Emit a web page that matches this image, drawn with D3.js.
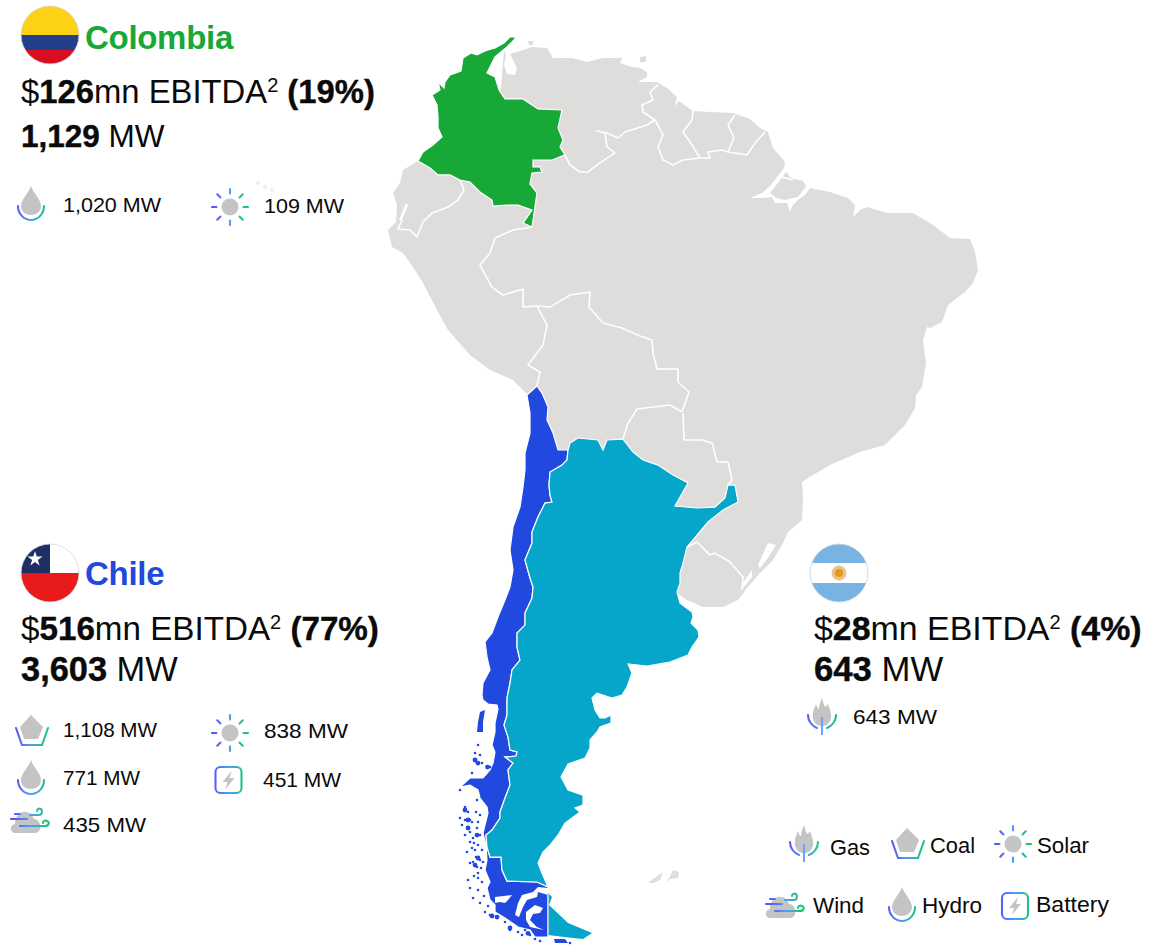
<!DOCTYPE html>
<html>
  <head>
    <meta charset="utf-8" />
    <script src="https://cdn.jsdelivr.net/npm/d3@7"></script>
    <style>
      body {
        margin: 0;
        background: #ffffff;
      }
      svg text {
        font-family: "Liberation Sans", Arial, sans-serif;
        fill: #0a0a0a;
      }
      .heavy {
        stroke: #0a0a0a;
        stroke-width: 0.4;
      }
      .land {
        fill: #dedddc;
      }
      .border {
        fill: none;
        stroke: #ffffff;
        stroke-width: 1.6;
        stroke-linejoin: round;
      }
      .water {
        fill: #ffffff;
      }
      .grey {
        fill: #c4c4c4;
      }
      .glow {
        fill: none;
        stroke: url(#glow);
        stroke-width: 2.1;
        stroke-linecap: round;
      }
    </style>
  </head>
  <body>
    <script>
      // outlines are [lon, lat]
      const restOfContinent = [[-72.68,11.25],[-72.52,10.88],[-72.68,10.13],[-72.44,9.45],[-71.8,9.38],[-71.64,9.9],[-72.04,10.65],[-72.2,10.95],[-71.4,11.18],[-70.44,11.48],[-69.24,11.4],[-68.76,10.65],[-67.24,10.65],[-66.04,10.35],[-64.76,10.65],[-63.24,10.65],[-63.4,10.28],[-62.44,9.98],[-61.8,9.9],[-61.24,9.6],[-61.24,9.23],[-61.96,8.85],[-60.44,8.85],[-59.64,8.4],[-58.84,7.73],[-59,7.05],[-58.68,7.43],[-57.56,6.68],[-56.2,6.6],[-54.36,6.53],[-53,6.08],[-52.2,5.4],[-51.56,5.1],[-51.16,3.9],[-50.2,2.85],[-50.28,2.4],[-50.84,1.73],[-51.4,1.05],[-52.04,0.53],[-53,0.15],[-51.8,0.15],[-51.24,0.23],[-51,-0.23],[-50.04,-0.23],[-49.8,-0.83],[-49.56,-0.38],[-49.16,0],[-48.52,0.45],[-48.2,0.9],[-46.6,0.6],[-45.16,0.15],[-44.6,-0.38],[-44.76,-1.28],[-44.2,-0.75],[-43.64,-0.53],[-42.04,-0.98],[-39.96,-0.98],[-38.36,-1.88],[-37,-2.85],[-35.4,-2.93],[-35,-3.9],[-34.76,-5.25],[-35.16,-6.23],[-35.8,-6.9],[-37.16,-7.88],[-37.64,-9.15],[-38.6,-9.6],[-38.84,-9.53],[-39.16,-10.5],[-38.92,-12.23],[-39.24,-14.03],[-39.72,-14.63],[-39.8,-15.6],[-40.6,-16.88],[-42.2,-18.38],[-44.2,-18.9],[-46.6,-19.88],[-47.96,-20.63],[-48.84,-21.15],[-48.76,-22.28],[-48.84,-24],[-49.96,-24.9],[-50.44,-25.88],[-51.16,-27],[-52.2,-27.98],[-53.24,-29.1],[-53.64,-29.63],[-53.96,-30],[-55.16,-30.53],[-56.76,-30.53],[-58.04,-30],[-58.84,-29.48],[-65,-30],[-69.8,-21],[-70.84,-14.55],[-71.96,-13.5],[-73.8,-12.75],[-75.4,-11.63],[-77.16,-9.75],[-78.04,-8.25],[-79.16,-6.23],[-79.96,-5.03],[-80.76,-3.98],[-81.64,-3.53],[-81.96,-2.25],[-81.32,-1.65],[-81.24,-0.38],[-81.56,0.53],[-81,1.28],[-80.76,2.25],[-79.56,2.93],[-73,7.5]];
      const marajo = [[-50.12,2.1],[-49.72,1.65],[-48.76,1.43],[-48.52,1.05],[-49.16,0.23],[-50.2,0],[-50.92,0.15],[-51.4,0.53],[-50.76,1.28]];
      const trinidad = [[-61.8,10.73],[-61.32,10.8],[-61.32,10.35],[-61.8,10.35]];
      const curacao = [[-70.76,11.93],[-70.36,11.93],[-70.36,11.63],[-70.68,11.63]];
      const falklandWest = [[-61.16,-51.23],[-59.96,-50.4],[-60.2,-51],[-60.76,-51.23]];
      const falklandEast = [[-59.8,-51.23],[-59.4,-50.78],[-59.16,-50.25],[-58.68,-50.4],[-58.76,-50.85],[-59.4,-50.93]];
      const galapagos = [[-92.36,1.28],[-91.8,0.98],[-91.24,0.75]];

      const colombiaOutline = [[-71.8,12.23],[-72.2,12.23],[-72.68,11.78],[-73.4,11.4],[-74.2,11.18],[-74.84,10.88],[-75.32,11.03],[-75.96,10.65],[-76.12,9.68],[-77,9.38],[-77.4,8.85],[-77.48,8.4],[-77.96,8.85],[-77.8,8.25],[-78.44,7.88],[-78.04,7.13],[-77.96,6.23],[-77.96,5.4],[-77.64,4.73],[-78.36,4.13],[-79.16,3.6],[-79.56,2.93],[-78.6,2.4],[-77.96,1.88],[-77,1.88],[-76.2,1.5],[-75.4,1.35],[-74.6,0.6],[-73.64,0],[-73.56,-0.45],[-72.44,-0.38],[-71.56,-0.38],[-70.44,-0.75],[-71.16,-1.73],[-70.44,-2.03],[-70.04,0.53],[-70.6,1.2],[-70.44,2.03],[-69.64,2.1],[-69.8,2.48],[-70.36,2.48],[-70.36,3],[-68.84,3],[-67.8,3.38],[-68.2,3.98],[-67.96,4.5],[-68.36,5.4],[-68.04,6.75],[-69.96,6.83],[-71.16,7.58],[-72.6,7.58],[-73.08,8.25],[-73.4,9.23],[-74.04,9.53],[-73.4,10.73],[-72.44,11.48],[-71.8,12.08]];

      const chileArgentinaBorder = [[-67.56,-18.75],[-67.64,-19.5],[-68.04,-19.88],[-69,-20.4],[-69.08,-21.38],[-69,-22.13],[-68.84,-22.65],[-69.4,-22.73],[-69.96,-23.78],[-70.44,-24.9],[-70.44,-25.73],[-71,-27],[-70.6,-28.35],[-70.36,-29.03],[-70.44,-29.85],[-71,-30.98],[-71,-31.88],[-71.64,-32.48],[-71.64,-33.53],[-71.4,-34.5],[-72.04,-35.25],[-72.2,-36.23],[-72.44,-37.35],[-72.44,-38.63],[-72.68,-39.38],[-72.36,-40.28],[-72.2,-41.25],[-71.64,-41.4],[-71.72,-41.7],[-72.6,-41.78],[-71.96,-42.23],[-72.36,-42.75],[-72.2,-43.88],[-72.6,-44.85],[-73,-45.9],[-73,-46.35],[-73.64,-47.25],[-74.12,-47.63],[-74.04,-48.53],[-73.8,-49.28],[-72.92,-49.28],[-72.84,-50.25],[-72.44,-51.08],[-70.04,-51.15],[-69.16,-51.53]];
      const chileNorth = [[-70.04,-13.95],[-69.64,-14.48],[-69.16,-15.53],[-69.24,-16.5],[-68.76,-17.48],[-68.36,-18.75]];
      const chileWest = [[-69.16,-55.28],[-70.2,-55.28],[-70.6,-54.75],[-71.56,-54.53],[-72.6,-53.85],[-73.4,-53.4],[-73.4,-52.88],[-73.8,-52.5],[-74.04,-51.6],[-73.8,-51.15],[-74.2,-50.25],[-74.04,-49.5],[-74.12,-48.38],[-74.36,-47.48],[-73.96,-45.98],[-74.04,-45.53],[-74.6,-44.85],[-74.76,-44.25],[-75.4,-43.88],[-76.2,-44.03],[-75.4,-43.35],[-74.36,-43.35],[-73.8,-42.75],[-73.56,-42.23],[-73.4,-41.4],[-73.64,-40.88],[-73.4,-39.9],[-73.4,-39.23],[-73.16,-38.18],[-73.24,-37.88],[-73.96,-37.8],[-74.36,-37.5],[-74.44,-37.13],[-74.36,-36.23],[-73.8,-35.25],[-74.04,-34.28],[-74.2,-33.15],[-73.64,-32.48],[-73.16,-31.28],[-72.6,-30],[-72.2,-29.03],[-71.96,-27.75],[-72.2,-26.25],[-71.96,-24.53],[-71.4,-23.03],[-71.16,-21.53],[-71,-20.25],[-71,-18.98],[-70.6,-17.48],[-70.6,-15.98],[-70.84,-14.63]];
      const chiloe = [[-74.6,-38.4],[-74.2,-38.25],[-74.36,-39.15],[-74.36,-39.9],[-74.84,-39.9],[-74.76,-39.15]];
      const navarino = [[-68.68,-55.43],[-67.8,-55.43],[-67.56,-55.73],[-68.6,-55.73]];
      const chileIslets = [[-74.76,-40.88],[-75,-41.48],[-74.6,-41.63],[-74.84,-42.23],[-74.44,-42.23],[-75.24,-42.98],[-73.8,-42.53],[-76.2,-44.25],[-74.84,-45],[-75.8,-45.53],[-75.56,-45.9],[-76.2,-46.35],[-75.8,-46.5],[-75.4,-46.5],[-75.56,-47.03],[-75.8,-47.63],[-75.16,-47.85],[-74.6,-47.63],[-75.4,-47.4],[-74.84,-47.1],[-74.76,-48.38],[-74.44,-48.75],[-75,-48.75],[-74.6,-49.5],[-75.4,-48.15],[-74.92,-49.28],[-75.4,-49.73],[-75.16,-49.65],[-74.84,-50.03],[-75.56,-51],[-74.76,-50.85],[-75.16,-52.35],[-73.8,-53.63],[-73.16,-53.78],[-72.6,-54.15],[-72.2,-54.75],[-71.56,-54.9],[-71,-54.75],[-70.6,-55.13],[-70.2,-55.43],[-69.8,-55.58],[-71.24,-55.13],[-67.4,-55.73],[-75.64,-48.9],[-75.24,-48.6],[-75.4,-51.6],[-74.2,-53.4],[-74.6,-46.13],[-74.92,-45.9],[-75.24,-46.65],[-74.76,-46.65],[-76.04,-46.88],[-75.08,-48.23],[-74.36,-49.65],[-74.52,-50.1],[-74.76,-50.48],[-75.08,-50.7],[-74.44,-51.15],[-74.76,-51.75],[-74.28,-52.2],[-73.96,-52.95],[-74.6,-52.73]];
      const chileBlobs = [[-75,-42],[-74.76,-42.23],[-74,-42.53],[-75.8,-45.75],[-75.56,-46.5],[-75.56,-47.1],[-74.84,-47.63],[-74.76,-49.35],[-75,-49.88],[-73.64,-53.7],[-73.24,-53.78],[-72.2,-54.6],[-70.76,-55]];
      const straitMagellan = [[-69.16,-51.6],[-69.96,-51.53],[-70.36,-51.9],[-71.24,-52.13],[-71.56,-52.73],[-71.8,-53.63],[-71.48,-53.78],[-71.16,-53.03],[-70.84,-52.5],[-70.04,-52.28],[-69.96,-51.9],[-69.16,-52.13]];
      const skyring = [[-73.4,-52.28],[-72.04,-52.13],[-72.36,-52.5],[-72.6,-52.73],[-73,-52.65],[-73.4,-52.73]];
      const almirantazgo = [[-70.2,-52.88],[-69.56,-53.1],[-69.8,-53.48],[-70.36,-53.55],[-70.6,-54],[-70.04,-54.53],[-69.48,-54.75],[-70.6,-54.53],[-70.92,-54],[-70.92,-53.4]];
      const fuegoBorder = [[-69.16,-51.98],[-69.16,-55.2]];

      const argentinaEast = [[-67.4,-18.23],[-66.76,-17.85],[-65.16,-18],[-64.76,-18.75],[-64.44,-18],[-63.16,-17.93],[-62.36,-18.9],[-61.56,-19.5],[-60.36,-19.88],[-59.16,-20.63],[-57.96,-21.23],[-59,-22.95],[-57.24,-23.1],[-55.8,-23.03],[-55,-22.35],[-54.76,-21.38],[-54.2,-21.38],[-53.96,-22.65],[-55.16,-23.25],[-56.36,-24.15],[-58.04,-26.03],[-58.36,-27.23],[-58.6,-27.98],[-58.6,-28.73],[-58.84,-29.4],[-58.6,-30.23],[-57.64,-30.9],[-57.56,-31.28],[-57.72,-31.73],[-57.16,-32.25],[-57.08,-32.78],[-57.64,-33.53],[-57.96,-34.13],[-59.4,-34.65],[-61.24,-34.95],[-62.76,-34.8],[-62.44,-35.48],[-62.84,-36.53],[-63.24,-37.13],[-64.04,-37.35],[-65.24,-36.98],[-65.64,-37.35],[-65.4,-38.25],[-65,-38.85],[-64.6,-38.85],[-64.12,-38.63],[-64.12,-39.23],[-64.6,-39.38],[-65,-39.53],[-65.24,-39.9],[-65.8,-40.5],[-65.8,-41.1],[-66.2,-41.85],[-67.56,-42.3],[-68.12,-43.28],[-67.56,-44.25],[-66.36,-44.63],[-66.36,-45.38],[-67,-45.6],[-66.6,-45.9],[-67.8,-46.73],[-68.36,-47.63],[-69,-48.38],[-69.56,-48.9],[-69.96,-49.73],[-69.64,-50.48]];
      const fuegoEast = [[-69.16,-51.98],[-68.84,-52.28],[-69.08,-52.88],[-67.56,-54.23],[-65.64,-54.98],[-66.36,-55.43],[-67.16,-55.35],[-69.16,-55.13]];

      const borderLines = [
        [[-76.2,1.5],[-75.88,0.75],[-76.36,0],[-77.16,-0.53],[-78.44,-0.98],[-79.16,-1.65],[-79.64,-2.78],[-80.2,-2.25],[-81.16,-2.18],[-80.84,-1.5]],
        [[-70.44,-2.03],[-71.96,-2.25],[-73.4,-2.85],[-73.8,-3.98],[-74.6,-4.88],[-73.64,-6.53],[-72.76,-7.13],[-71.16,-6.68],[-71.16,-8.03],[-70.04,-7.95]],
        [[-70.04,-7.95],[-69.24,-9.38],[-69.56,-10.88],[-70.76,-12.38],[-69.8,-12.9],[-70.04,-13.88]],
        [[-70.04,-7.95],[-69,-8.03],[-67.4,-7.13],[-65.8,-6.9],[-65.88,-8.03],[-64.76,-9.23],[-63.24,-9.6],[-61.8,-10.2],[-60.84,-10.5],[-60.76,-11.48],[-60.44,-12.68],[-58.76,-12.68],[-58.76,-13.65],[-57.88,-14.4],[-58.44,-15.9]],
        [[-58.44,-15.9],[-59.4,-15.38],[-62.04,-15.68],[-62.76,-16.73],[-63.16,-17.93]],
        [[-58.36,-15.98],[-58.28,-18],[-56.84,-18],[-56.04,-18.23],[-55.64,-19.65],[-54.76,-19.65],[-54.44,-21],[-54.76,-21.38]],
        [[-58.04,-26.03],[-57.24,-25.65],[-56.2,-26.63],[-55.8,-26.48],[-54.6,-27.15],[-53.56,-28.28],[-53.64,-29.25]],
        [[-67.8,3.38],[-67.4,2.63],[-66.6,2.1],[-65.96,2.1],[-65.24,2.63],[-63.8,3.53],[-64.44,3.98],[-64.6,5.03],[-65.24,5.18],[-64.44,5.03],[-63.56,4.65],[-63,5.1],[-61.24,5.63],[-60.6,6]],
        [[-60.6,6],[-61.56,6.6],[-61.64,7.13],[-60.76,7.5],[-61,8.1],[-60.36,8.63]],
        [[-60.6,6],[-59.96,4.88],[-60.36,3.98],[-59.96,3],[-59.16,2.63],[-58.36,3],[-57,3.15]],
        [[-57.56,6.68],[-57.64,6],[-58.36,5.1],[-57.8,4.35],[-57,3.15]],
        [[-54.2,6.38],[-54.76,5.63],[-54.28,4.65],[-54.76,3.6]],
        [[-57,3.15],[-56.2,3.15],[-56.36,3.6],[-55.24,3.75],[-54.76,3.6]],
        [[-54.76,3.6],[-54.2,3.53],[-53.24,3.38],[-52.6,4.28],[-51.8,5.1]],
        [[-50.44,1.73],[-49.56,1.5]]
      ];
      const lagoonMerin = [[-53.56,-28.73],[-52.84,-27.75],[-52.84,-28.28],[-53.56,-29.1]];
      const lagoonPatos = [[-52.36,-27.38],[-51.56,-25.73],[-50.92,-25.88],[-51.56,-26.85],[-52.2,-27.6]];
      const gulfGuayaquil = [[-80.52,-0.23],[-80.36,-0.38],[-80.84,-1.5],[-81.08,-1.5]];

      // text of the three country blocks
      const countryNames = ["Colombia", "Chile", ""];
      const ebitda = [126, 516, 28];
      const ebitdaShare = [19, 77, 4];
      const capacity = ["1,129", "3,603", "643"];
      const colombiaTech = [["hydro", "1,020 MW"], ["solar", "109 MW"]];
      const chileTech = [["coal", "1,108 MW"], ["hydro", "771 MW"], ["wind", "435 MW"], ["solar", "838 MW"], ["battery", "451 MW"]];
      const argentinaTech = [["gas", "643 MW"]];
      const legendLabels = [["gas", "Gas"], ["coal", "Coal"], ["solar", "Solar"], ["wind", "Wind"], ["hydro", "Hydro"], ["battery", "Battery"]];

      const width = 1168, height = 946;
      const lon = d3.scaleLinear().domain([-113, -19.56]).range([0, width]);
      const lat = d3.scaleLinear().domain([15, -55.95]).range([0, height]);
      const line = d3.line().x((d) => lon(d[0])).y((d) => lat(d[1]));

      const svg = d3.select("body").append("svg").attr("width", width).attr("height", height);
      const defs = svg.append("defs");

      const glow = defs.append("linearGradient").attr("id", "glow")
        .attr("gradientUnits", "userSpaceOnUse")
        .attr("x1", -17).attr("x2", 17).attr("y1", 0).attr("y2", 0);
      glow.append("stop").attr("offset", 0).attr("stop-color", "#5a50f5");
      glow.append("stop").attr("offset", 0.5).attr("stop-color", "#4f9cff");
      glow.append("stop").attr("offset", 1).attr("stop-color", "#19c96a");

      // icons, each one centred on 0,0
      const hydro = defs.append("g").attr("id", "hydro");
      hydro.append("path").attr("class", "grey")
        .attr("d", "M0,-19 C-2,-12 -10,-6 -10,1 C-10,7 -5,10 0,10 C5,10 10,7 10,1 C10,-6 2,-12 0,-19Z");
      hydro.append("path").attr("class", "glow").attr("d", "M-13,1 A13,14 0 0 0 13,1");

      const solar = defs.append("g").attr("id", "solar");
      solar.append("circle").attr("class", "grey").attr("r", 8.5);
      d3.range(8).forEach((i) => {
        const a = (i * Math.PI) / 4;
        solar.append("path").attr("class", "glow")
          .attr("d", d3.line()([[13.5 * Math.cos(a), 13.5 * Math.sin(a)], [18 * Math.cos(a), 18 * Math.sin(a)]]));
      });

      const coal = defs.append("g").attr("id", "coal");
      coal.append("path").attr("class", "grey").attr("d", "M0,-15 L12,-3 L7,9 L-7,9 L-11,-3Z");
      coal.append("path").attr("class", "glow").attr("d", "M-15,-2 L-9,15 L11,15 L17,-2");

      const gas = defs.append("g").attr("id", "gas");
      gas.append("path").attr("class", "grey")
        .attr("d", "M0,8 C-7,8 -10,2 -9,-5 C-8.5,-9 -7,-11 -6,-14 C-5,-10 -4,-9 -3,-9 C-3,-14 -1,-17 0,-20 C1,-16 2,-13 3,-11 C4,-11 5,-13 6,-14 C7,-10 9,-7 9,-3 C10,3 6,8 0,8Z");
      gas.append("path").attr("class", "glow").attr("d", "M-14,-3 C-14,3 -10,8 -5,10 M14,-3 C14,3 10,8 5,10");
      gas.append("path").attr("d", "M0,-1 V17").attr("fill", "none").attr("stroke", "#6aa2ff").attr("stroke-width", 2);

      const wind = defs.append("g").attr("id", "wind");
      wind.append("path").attr("class", "grey")
        .attr("d", "M-15,11 C-20,11 -21,3 -15,2 C-15,-6 -9,-11 -4,-10 C1,-10 3,-5 4,-3 C9,-3 11,3 10,7 C9,10 7,11 5,11Z");
      wind.append("path").attr("class", "glow")
        .attr("d", "M-15,-8 H-10 M-19,-3 H-3 M-10,4 H15 C19,4 20,0 17,-1 C15,-2 13,-1 13,1 M0,-7 H9 C12,-7 13,-11 11,-13 C9,-14 7,-13 7,-11");

      const battery = defs.append("g").attr("id", "battery");
      battery.append("rect").attr("class", "glow").attr("x", -13).attr("y", -13)
        .attr("width", 26).attr("height", 26).attr("rx", 5);
      battery.append("path").attr("class", "grey").attr("d", "M3,-9 L-6,2 L-1,2 L-3,9 L6,-2 L1,-2Z");

      // map
      const map = svg.append("g");
      map.append("path").attr("class", "land").attr("d", line(restOfContinent) + "Z");
      [marajo, trinidad, curacao, falklandWest, falklandEast].forEach((ring) => {
        map.append("path").attr("class", "land").attr("d", line(ring) + "Z");
      });
      map.selectAll(".speck").data(galapagos).join("circle")
        .attr("class", "speck").attr("fill", "#eeeeee")
        .attr("cx", (d) => lon(d[0])).attr("cy", (d) => lat(d[1])).attr("r", 2);
      map.selectAll(".border-line").data(borderLines).join("path")
        .attr("class", "border border-line").attr("d", line);
      [lagoonMerin, lagoonPatos, gulfGuayaquil].forEach((ring) => {
        map.append("path").attr("class", "water").attr("d", line(ring) + "Z");
      });

      const chileBlue = "#2149e0", argentinaTeal = "#05a6c9", colombiaGreen = "#17a838";

      map.append("path").attr("fill", colombiaGreen).attr("stroke", "#fff").attr("stroke-width", 1.2)
        .attr("d", line(colombiaOutline) + "Z");

      const chileRing = chileNorth.concat(chileArgentinaBorder, chileWest);
      map.append("path").attr("fill", chileBlue).attr("stroke", "#fff").attr("stroke-width", 1.2)
        .attr("d", line(chileRing) + "Z");
      [chiloe, navarino].forEach((ring) => {
        map.append("path").attr("fill", chileBlue).attr("d", line(ring) + "Z");
      });
      [straitMagellan, skyring, almirantazgo].forEach((ring) => {
        map.append("path").attr("class", "water").attr("d", line(ring) + "Z");
      });
      map.selectAll(".islet").data(chileIslets).join("circle")
        .attr("class", "islet").attr("fill", chileBlue)
        .attr("cx", (d) => lon(d[0])).attr("cy", (d) => lat(d[1])).attr("r", 1.3);
      map.selectAll(".blob").data(chileBlobs).join("circle")
        .attr("class", "blob").attr("fill", chileBlue)
        .attr("cx", (d) => lon(d[0])).attr("cy", (d) => lat(d[1])).attr("r", 2.4);

      const argentinaRing = chileArgentinaBorder.slice().reverse().concat(argentinaEast);
      map.append("path").attr("fill", argentinaTeal).attr("stroke", "#fff").attr("stroke-width", 1.2)
        .attr("d", line(argentinaRing) + "Z");
      map.append("path").attr("fill", argentinaTeal).attr("d", line(fuegoEast) + "Z");
      map.append("path").attr("fill", "none").attr("stroke", "#cdd5e6").attr("stroke-width", 1.6)
        .attr("d", line(fuegoBorder));

      // flags
      function flag(id, cx, cy, paint) {
        defs.append("clipPath").attr("id", id).append("circle").attr("cx", cx).attr("cy", cy).attr("r", 29);
        const g = svg.append("g").attr("clip-path", "url(#" + id + ")");
        paint(g, cx - 29, cy - 29);
        svg.append("circle").attr("cx", cx).attr("cy", cy).attr("r", 29)
          .attr("fill", "none").attr("stroke", "#d8d8d8").attr("stroke-width", 0.8);
      }
      function band(g, x, y, w, h, c) {
        g.append("rect").attr("x", x).attr("y", y).attr("width", w).attr("height", h).attr("fill", c);
      }
      flag("flag-co", 50, 35, (g, x, y) => {
        band(g, x, y, 58, 29, "#fcd116");
        band(g, x, y + 29, 58, 15, "#223f8c");
        band(g, x, y + 44, 58, 14, "#d80f22");
      });
      flag("flag-cl", 50, 573, (g, x, y) => {
        band(g, x, y, 58, 29, "#ffffff");
        band(g, x, y, 29, 29, "#1f2f66");
        band(g, x, y + 29, 58, 29, "#e81a1a");
        g.append("path").attr("fill", "#fff")
          .attr("transform", "translate(" + (x + 14) + "," + (y + 15) + ")")
          .attr("d", d3.symbol().type(d3.symbolStar).size(70));
      });
      flag("flag-ar", 839, 573, (g, x, y) => {
        band(g, x, y, 58, 58, "#78b3e3");
        band(g, x, y + 19, 58, 20, "#ffffff");
        g.append("circle").attr("cx", x + 29).attr("cy", y + 29).attr("r", 7.5).attr("fill", "#e8c48c");
        g.append("circle").attr("cx", x + 29).attr("cy", y + 29).attr("r", 4).attr("fill", "#e39a1a");
      });

      // country text blocks
      const blockX = [21, 21, 814];
      const nameY = [49, 585, 0];
      const headY = [103, 640, 640];
      const capY = [147, 681, 681];
      const headFont = [32.8, 33.2, 33.9];
      const capFont = [31.5, 34.4, 34.7];
      const nameColors = [colombiaGreen, chileBlue, "#000"];

      ebitda.forEach((v, i) => {
        if (countryNames[i]) {
          svg.append("text").attr("x", 85).attr("y", nameY[i]).attr("font-size", 33).attr("font-weight", 700)
            .attr("letter-spacing", -0.3).style("fill", nameColors[i]).text(countryNames[i]);
        }
        const head = svg.append("text").attr("x", blockX[i]).attr("y", headY[i]).attr("font-size", headFont[i]);
        head.append("tspan").text("$");
        head.append("tspan").attr("class", "heavy").attr("font-weight", 700).text(v);
        head.append("tspan").text("mn EBITDA");
        head.append("tspan").attr("font-size", 20).attr("dy", -11).text("2");
        head.append("tspan").attr("class", "heavy").attr("dy", 11).attr("font-weight", 700).text(" (" + ebitdaShare[i] + "%)");

        const cap = svg.append("text").attr("x", blockX[i]).attr("y", capY[i]).attr("font-size", capFont[i]);
        cap.append("tspan").attr("class", "heavy").attr("font-weight", 700).text(capacity[i]);
        cap.append("tspan").text(" MW");
      });

      function techRow(items, iconAt, textAt, size) {
        items.forEach((d, i) => {
          svg.append("use").attr("href", "#" + d[0])
            .attr("transform", "translate(" + iconAt[i][0] + "," + iconAt[i][1] + ")");
          svg.append("text").attr("x", textAt[i][0]).attr("y", textAt[i][1])
            .attr("font-size", size)
            .attr("textLength", textAt[i][2]).attr("lengthAdjust", "spacingAndGlyphs")
            .text(d[1]);
        });
      }
      techRow(colombiaTech, [[31, 205], [230, 207]], [[63, 212, 98], [264, 213, 80]], 21);
      techRow(chileTech,
        [[31, 730], [31, 779], [30, 822], [230, 733], [228.5, 780]],
        [[63, 737, 94], [63, 785, 77], [63, 832, 83], [264, 738, 84], [263, 787, 78]], 21);
      techRow(argentinaTech, [[822, 718]], [[853, 724, 84]], 21);
      techRow(legendLabels,
        [[804, 845], [907, 843], [1013, 844], [785, 907], [902, 906], [1015, 906]],
        [[830, 855, 40], [930, 853, 45], [1037, 853, 52], [813, 913, 51], [922, 913, 60], [1036, 912, 73]], 22);
    </script>
  </body>
</html>
